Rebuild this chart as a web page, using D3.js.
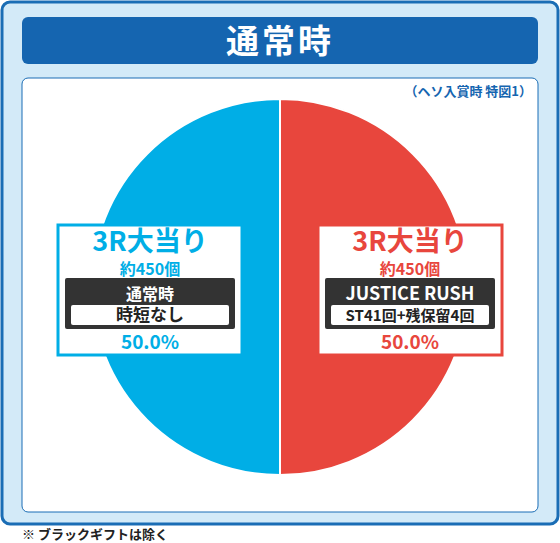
<!DOCTYPE html><html><head><meta charset="utf-8"><script src="https://cdn.jsdelivr.net/npm/d3@7"></script>
<style>body{margin:0;background:#fff}text{font-family:"Noto Sans CJK JP",sans-serif;font-weight:bold}</style></head><body><svg id="c" width="560" height="543"></svg>
<script>
const title="通常時";
const subtitle="（ヘソ入賞時 特図1）";
const categories=["JUSTICE RUSH","通常時"];
const values=[50.0,50.0];
const rounds=["3R大当り","3R大当り"];
const payouts=["約450個","約450個"];
const details=["ST41回+残保留4回","時短なし"];
const colors=["#e8463d","#00aee6"];
const footnote="※ ブラックギフトは除く";
const svg=d3.select("#c");
svg.append("rect").attr("x",2).attr("y",2).attr("width",556).attr("height",522).attr("rx",8).attr("fill","#d3eaf8").attr("stroke","#1a6db5").attr("stroke-width",3);
svg.append("rect").attr("x",22).attr("y",17).attr("width",516).attr("height",47).attr("rx",6).attr("fill","#1565b0");
svg.append("text").attr("x",280).attr("y",53).attr("text-anchor","middle").attr("fill","#fff").attr("font-size",33).attr("letter-spacing",3).text(title);
svg.append("rect").attr("x",22).attr("y",78).attr("width",516).attr("height",434).attr("rx",6).attr("fill","#fff").attr("stroke","#1a6db5").attr("stroke-width",1);
svg.append("text").attr("x",532).attr("y",96).attr("text-anchor","end").attr("fill","#1565b0").attr("font-size",13).text(subtitle);
const pie=d3.pie().sort(null).value(d=>d)(values);
const arc=d3.arc().innerRadius(0).outerRadius(188);
const g=svg.append("g").attr("transform","translate(280,287)");
g.selectAll("path").data(pie).join("path").attr("d",arc).attr("fill",(d,i)=>colors[i]).attr("stroke","#fff").attr("stroke-width",2);
const cx=[410,150];
categories.forEach((c,i)=>{
 const x=cx[i],col=colors[i];
 const G=svg.append("g").attr("transform",`translate(${x},0)`);
 G.append("rect").attr("x",-92).attr("y",225).attr("width",184).attr("height",130).attr("fill","#fff").attr("stroke",col).attr("stroke-width",3);
 G.append("text").attr("y",251).attr("text-anchor","middle").attr("fill",col).attr("font-size",27).text(rounds[i]);
 G.append("text").attr("y",275).attr("text-anchor","middle").attr("fill",col).attr("font-size",16).text(payouts[i]);
 G.append("rect").attr("x",-85).attr("y",278).attr("width",170).attr("height",51).attr("rx",2).attr("fill","#333");
 G.append("text").attr("y",300).attr("text-anchor","middle").attr("fill","#fff").attr("font-size",i==0?18:16).attr("font-family","Liberation Sans, sans-serif").text(c);
 G.append("rect").attr("x",-79).attr("y",305).attr("width",158).attr("height",20).attr("rx",2).attr("fill","#fff");
 G.append("text").attr("y",321).attr("text-anchor","middle").attr("fill","#222").attr("font-size",i==0?15:17).text(details[i]);
 G.append("text").attr("y",349).attr("text-anchor","middle").attr("fill",col).attr("font-size",19).attr("font-family","Liberation Sans, sans-serif").text(values[i].toFixed(1)+"%");
});
svg.append("text").attr("x",22).attr("y",539).attr("fill","#222").attr("font-size",13).attr("font-weight","normal").text(footnote);
</script></body></html>
